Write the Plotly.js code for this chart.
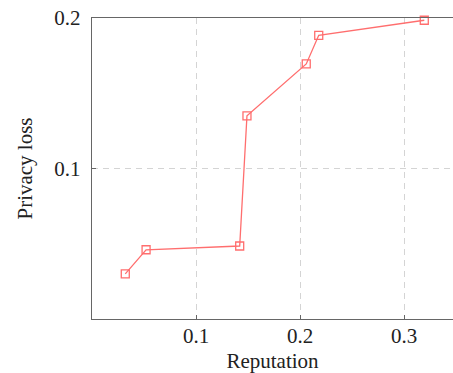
<!DOCTYPE html>
<html>
<head>
<meta charset="utf-8">
<script src="https://cdn.plot.ly/plotly-3.0.1.min.js"></script>
<style>html,body{margin:0;padding:0;background:#fff;}#chart{width:453px;height:373px;}</style>
</head>
<body>
<div id="chart"></div>
<script>
const reputation = [0.032, 0.052, 0.142, 0.149, 0.206, 0.218, 0.3195];
const privacyLoss = [0.030, 0.046, 0.0485, 0.135, 0.1695, 0.1885, 0.1985];
const xTickVals = [0.1, 0.2, 0.3];
const xTickText = ["0.1", "0.2", "0.3"];
const yTickVals = [0.1, 0.2];
const yTickText = ["0.1", "0.2"];

const lineColor = "rgb(255,110,110)";
const serif = "'Liberation Serif', 'Times New Roman', serif";

const trace = {
  x: reputation,
  y: privacyLoss,
  type: "scatter",
  mode: "lines+markers",
  line: {color: lineColor, width: 1.3},
  marker: {symbol: "square-open", size: 8, color: lineColor, line: {width: 1.3, color: lineColor}},
  showlegend: false,
  cliponaxis: false
};

const axisCommon = {
  showline: true,
  linecolor: "#666",
  linewidth: 1.2,
  mirror: true,
  ticks: "inside",
  ticklen: 4,
  tickcolor: "#666",
  showgrid: true,
  gridcolor: "#d4d4d4",
  griddash: "6px,5px",
  gridwidth: 1,
  zeroline: false,
  tickfont: {family: serif, size: 21, color: "#222"},
  tickmode: "array"
};

const layout = {
  width: 453,
  height: 373,
  margin: {l: 92, r: 0, t: 18, b: 54},
  paper_bgcolor: "#fff",
  plot_bgcolor: "#fff",
  xaxis: Object.assign({}, axisCommon, {
    range: [0, 0.3471],
    tickvals: xTickVals,
    ticktext: xTickText,
    ticklabelstandoff: -2,
    title: {text: "Reputation", font: {family: serif, size: 21, color: "#222"}, standoff: 6}
  }),
  yaxis: Object.assign({}, axisCommon, {
    range: [0, 0.2],
    tickvals: yTickVals,
    ticktext: yTickText,
    ticklabelstandoff: 6,
    title: {text: "Privacy loss", font: {family: serif, size: 21, color: "#222"}, standoff: 16}
  })
};

Plotly.newPlot("chart", [trace], layout, {staticPlot: true, displayModeBar: false});
</script>
</body>
</html>
